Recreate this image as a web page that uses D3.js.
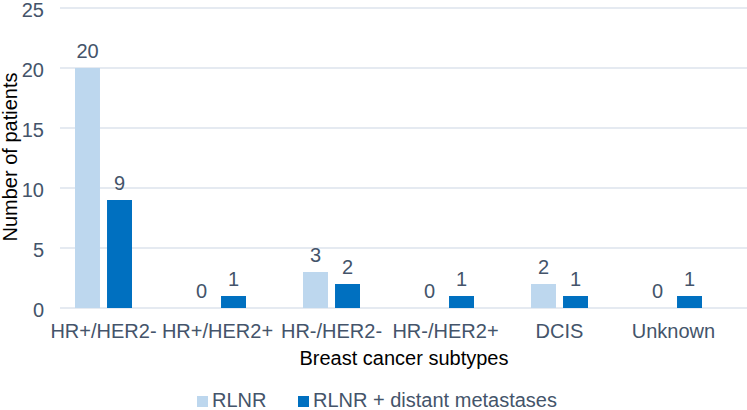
<!DOCTYPE html>
<html>
<head>
<meta charset="utf-8">
<script src="https://cdn.jsdelivr.net/npm/d3@7"></script>
<style>
  body { margin: 0; background: #fff; }
  svg text { font-family: "Liberation Sans", Arial, sans-serif; }
</style>
</head>
<body>
<div id="chart"></div>
<script>
var categories = ['HR+/HER2-', 'HR+/HER2+', 'HR-/HER2-', 'HR-/HER2+', 'DCIS', 'Unknown'];
var rlnr = [20, 0, 3, 0, 2, 0];
var rlnrMeta = [9, 1, 2, 1, 1, 1];
var seriesNames = ['RLNR', 'RLNR + distant metastases'];
var yTicks = [0, 5, 10, 15, 20, 25];

var width = 747;
var height = 410;
var colors = ['#bdd7ee', '#0070c0'];
var textColor = '#44546a';
var fontSize = '20px';

var svg = d3.select('#chart')
  .append('svg')
  .attr('width', width)
  .attr('height', height);

var x = d3.scaleBand()
  .domain(categories)
  .range([46.5, 730.5]);

var x1 = d3.scaleBand()
  .domain([0, 1])
  .range([-28.5, 28.5])
  .paddingInner(0.22);

var y = d3.scaleLinear()
  .domain([0, 25])
  .range([308, 8]);

// gridlines
svg.append('g')
  .selectAll('line')
  .data(yTicks)
  .enter().append('line')
  .attr('x1', 60)
  .attr('x2', width)
  .attr('y1', function(d) { return y(d); })
  .attr('y2', function(d) { return y(d); })
  .attr('stroke', '#dde3ec')
  .attr('stroke-width', 1.5);

// y tick labels
svg.append('g')
  .selectAll('text')
  .data(yTicks)
  .enter().append('text')
  .attr('x', 44)
  .attr('y', function(d) { return y(d) + 8.5; })
  .attr('text-anchor', 'end')
  .attr('fill', textColor)
  .style('font-size', fontSize)
  .text(function(d) { return d; });

var data = categories.map(function(c, i) {
  return { cat: c, values: [rlnr[i], rlnrMeta[i]] };
});

var groups = svg.selectAll('.group')
  .data(data)
  .enter().append('g')
  .attr('class', 'group')
  .attr('transform', function(d) {
    return 'translate(' + (x(d.cat) + x.bandwidth() / 2) + ',0)';
  });

groups.selectAll('rect')
  .data(function(d) { return d.values; })
  .enter().append('rect')
  .attr('x', function(d, i) { return x1(i); })
  .attr('width', x1.bandwidth())
  .attr('y', function(d) { return y(d); })
  .attr('height', function(d) { return y(0) - y(d); })
  .attr('fill', function(d, i) { return colors[i]; });

groups.selectAll('.val')
  .data(function(d) { return d.values; })
  .enter().append('text')
  .attr('class', 'val')
  .attr('x', function(d, i) { return x1(i) + x1.bandwidth() / 2; })
  .attr('y', function(d) { return y(d) - 10; })
  .attr('text-anchor', 'middle')
  .attr('fill', textColor)
  .style('font-size', fontSize)
  .text(function(d) { return d; });

// category labels
svg.append('g')
  .selectAll('text')
  .data(categories)
  .enter().append('text')
  .attr('x', function(d) { return x(d) + x.bandwidth() / 2; })
  .attr('y', 338)
  .attr('text-anchor', 'middle')
  .attr('fill', textColor)
  .style('font-size', fontSize)
  .text(function(d) { return d; });

// x title
svg.append('text')
  .attr('x', 404)
  .attr('y', 365)
  .attr('text-anchor', 'middle')
  .attr('fill', '#000')
  .style('font-size', fontSize)
  .text('Breast cancer subtypes');

// y title
svg.append('text')
  .attr('transform', 'translate(16.5,157) rotate(-90)')
  .attr('text-anchor', 'middle')
  .attr('fill', '#000')
  .style('font-size', fontSize)
  .text('Number of patients');

// legend
var legendX = [197, 298];
var legend = svg.selectAll('.legend')
  .data(seriesNames)
  .enter().append('g')
  .attr('class', 'legend')
  .attr('transform', function(d, i) { return 'translate(' + legendX[i] + ',396)'; });

legend.append('rect')
  .attr('width', 11)
  .attr('height', 11)
  .attr('fill', function(d, i) { return colors[i]; });

legend.append('text')
  .attr('x', 15)
  .attr('y', 11)
  .attr('fill', textColor)
  .style('font-size', fontSize)
  .text(function(d) { return d; });
</script>
</body>
</html>
